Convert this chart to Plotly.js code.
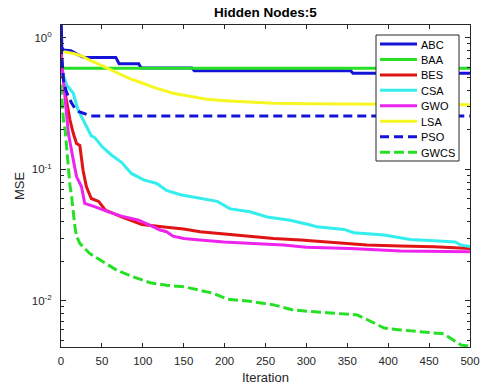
<!DOCTYPE html>
<html>
<head>
<meta charset="utf-8">
<script src="https://cdn.plot.ly/plotly-3.0.1.min.js"></script>
<style>
html,body{margin:0;padding:0;background:#fff;}
#chart{width:484px;height:390px;}
</style>
</head>
<body>
<div id="chart"></div>
<script>
// ---- data ----
var seriesNames = ['ABC', 'BAA', 'BES', 'CSA', 'GWO', 'LSA', 'PSO', 'GWCS'];

var abcX = [0, 1, 3, 12, 20, 28, 67, 71, 95, 98, 160, 163, 354, 357, 500];
var abcY = [1.6, 0.85, 0.81, 0.80, 0.75, 0.71, 0.71, 0.635, 0.635, 0.59, 0.59, 0.563, 0.563, 0.538, 0.538];

var baaX = [0, 3, 500];
var baaY = [0.63, 0.587, 0.587];

var besX = [0, 2, 5, 8, 11, 15, 19, 23, 25, 27, 31, 37, 46, 54, 74, 99, 129, 150, 170, 191, 211, 231, 260, 293, 333, 374, 415, 456, 500];
var besY = [0.80, 0.55, 0.38, 0.29, 0.237, 0.188, 0.157, 0.152, 0.12, 0.098, 0.074, 0.060, 0.057, 0.049, 0.0434, 0.038, 0.0362, 0.0352, 0.0335, 0.0326, 0.0316, 0.0307, 0.0298, 0.029, 0.0276, 0.0265, 0.0261, 0.0258, 0.025];

var csaX = [0, 2, 7, 15, 21, 29, 37, 41, 50, 62, 74, 86, 101, 117, 129, 146, 170, 191, 207, 231, 252, 280, 305, 313, 346, 358, 395, 427, 456, 482, 489, 500];
var csaY = [0.65, 0.54, 0.438, 0.379, 0.282, 0.224, 0.18, 0.175, 0.149, 0.128, 0.113, 0.093, 0.083, 0.078, 0.069, 0.064, 0.06, 0.057, 0.050, 0.0475, 0.0434, 0.041, 0.0377, 0.0365, 0.0349, 0.0329, 0.0316, 0.0292, 0.0286, 0.028, 0.0265, 0.0258];

var gwoX = [0, 3, 6, 9, 15, 19, 25, 29, 41, 48, 58, 74, 95, 113, 121, 129, 137, 142, 150, 170, 199, 235, 272, 300, 354, 415, 500];
var gwoY = [0.75, 0.45, 0.28, 0.188, 0.118, 0.088, 0.074, 0.055, 0.052, 0.050, 0.0475, 0.0440, 0.041, 0.0365, 0.0345, 0.0335, 0.0310, 0.0305, 0.0298, 0.029, 0.028, 0.0273, 0.0265, 0.0255, 0.025, 0.0239, 0.0236];

var lsaX = [0, 5, 15, 25, 33, 45, 54, 64, 74, 84, 94, 105, 117, 137, 158, 178, 200, 219, 240, 260, 300, 382, 500];
var lsaY = [0.80, 0.78, 0.76, 0.73, 0.687, 0.64, 0.60, 0.56, 0.522, 0.49, 0.466, 0.44, 0.413, 0.379, 0.357, 0.341, 0.333, 0.327, 0.322, 0.318, 0.315, 0.312, 0.31];

var psoX = [0, 1, 3, 6, 9, 13, 17, 22, 29, 37, 500];
var psoY = [0.88, 0.68, 0.48, 0.40, 0.357, 0.32, 0.291, 0.275, 0.265, 0.254, 0.254];

var gwcsX = [0, 2, 3, 5, 7, 9, 11, 13, 15, 17, 19, 23, 29, 35, 48, 68, 88, 109, 129, 150, 170, 186, 203, 231, 260, 284, 325, 362, 374, 395, 415, 444, 468, 480, 489, 500];
var gwcsY = [0.44, 0.30, 0.237, 0.2, 0.14, 0.111, 0.075, 0.062, 0.045, 0.0365, 0.031, 0.0273, 0.025, 0.0229, 0.0204, 0.0171, 0.0152, 0.0137, 0.0131, 0.0128, 0.0120, 0.0114, 0.0103, 0.0099, 0.0093, 0.0085, 0.0081, 0.0078, 0.0072, 0.0062, 0.006, 0.0058, 0.0056, 0.005, 0.0046, 0.0045];

var xTickVals = [0, 50, 100, 150, 200, 250, 300, 350, 400, 450, 500];
var yTickVals = [0.01, 0.1, 1];
var yTickText = ['10<sup>-2</sup>', '10<sup>-1</sup>', '10<sup>0</sup>'];

// ---- styles ----
var colors = ['#1414d8', '#26e026', '#e01414', '#34eeee', '#ee24ee', '#f6f622', '#1414d8', '#26e026'];
var dashes = ['solid', 'solid', 'solid', 'solid', 'solid', 'solid', '9px,5px', '10px,4px'];
var xs = [abcX, baaX, besX, csaX, gwoX, lsaX, psoX, gwcsX];
var ys = [abcY, baaY, besY, csaY, gwoY, lsaY, psoY, gwcsY];

var traces = [];
for (var i = 0; i < seriesNames.length; i++) {
  traces.push({
    type: 'scatter', mode: 'lines', name: seriesNames[i],
    x: xs[i], y: ys[i],
    line: {color: colors[i], width: 3, dash: dashes[i]},
    showlegend: false, hoverinfo: 'skip'
  });
}

// minor log ticks
var minorVals = [];
[0.001, 0.01, 0.1].forEach(function (d) {
  for (var k = 2; k <= 9; k++) minorVals.push(+(k * d).toPrecision(3));
});

var M = {l: 61, r: 14, t: 25, b: 43};
var W = 484, H = 390;
var pw = W - M.l - M.r, ph = H - M.t - M.b;
function px2x(px) { return (px - M.l) / pw; }
function py2y(py) { return (H - M.b - py) / ph; }

// manual legend (box, sample lines and labels)
var shapes = [{
  type: 'rect', xref: 'paper', yref: 'paper',
  x0: px2x(376), x1: px2x(459), y0: py2y(161), y1: py2y(35),
  fillcolor: '#ffffff', line: {color: '#262626', width: 1}, layer: 'above'
}];
var annotations = [];
for (var j = 0; j < seriesNames.length; j++) {
  var cy = 44 + 15.45 * j;
  shapes.push({
    type: 'line', xref: 'paper', yref: 'paper',
    x0: px2x(380), x1: px2x(417), y0: py2y(cy), y1: py2y(cy),
    line: {color: colors[j], width: 3, dash: dashes[j]}, layer: 'above'
  });
  annotations.push({
    xref: 'paper', yref: 'paper', x: px2x(419), y: py2y(cy + 0.5),
    xanchor: 'left', yanchor: 'middle', showarrow: false,
    text: seriesNames[j], font: {family: 'Liberation Sans, Arial, sans-serif', size: 11, color: '#000'}
  });
}

var tickFont = {family: 'Liberation Sans, Arial, sans-serif', size: 11.5, color: '#262626'};
var labelFont = {family: 'Liberation Sans, Arial, sans-serif', size: 13, color: '#262626'};

var layout = {
  width: W, height: H,
  margin: M,
  paper_bgcolor: '#fff', plot_bgcolor: '#fff',
  showlegend: false,
  title: {
    text: '<b>Hidden Nodes:5</b>',
    font: {family: 'Liberation Sans, Arial, sans-serif', size: 13.5, color: '#000'},
    x: 0.5485, xanchor: 'center', y: 1 - 12.5 / H, yanchor: 'middle'
  },
  xaxis: {
    range: [0, 500], tickvals: xTickVals,
    ticks: 'inside', ticklen: 4, tickcolor: '#262626', tickwidth: 1,
    ticklabelstandoff: 3,
    showline: true, linecolor: '#262626', linewidth: 1, mirror: 'ticks',
    showgrid: false, zeroline: false, tickfont: tickFont,
    title: {text: 'Iteration', font: labelFont, standoff: 7}
  },
  yaxis: {
    type: 'log', range: [-2.352, 0.098],
    tickvals: yTickVals, ticktext: yTickText,
    ticks: 'inside', ticklen: 5, tickcolor: '#262626', tickwidth: 1,
    ticklabelstandoff: 6,
    minor: {tickvals: minorVals, ticks: 'inside', ticklen: 3, tickcolor: '#262626', showgrid: false},
    showline: true, linecolor: '#262626', linewidth: 1, mirror: 'ticks',
    showgrid: false, zeroline: false, tickfont: tickFont,
    title: {text: 'MSE', font: labelFont, standoff: 4}
  },
  shapes: shapes,
  annotations: annotations
};

Plotly.newPlot('chart', traces, layout, {displayModeBar: false, staticPlot: true});
</script>
</body>
</html>
